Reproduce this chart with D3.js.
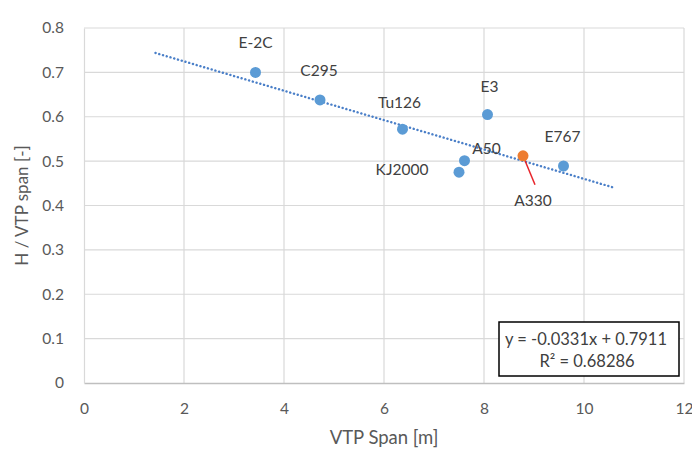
<!DOCTYPE html>
<html>
<head>
<meta charset="utf-8">
<script src="https://cdn.jsdelivr.net/npm/d3@7"></script>
<style>
  body { margin: 0; background: #fff; }
  text { font-family: Lato, "Open Sans", sans-serif; }
</style>
</head>
<body>
<div id="chart"></div>
<script>
const w = 692;
const h = 454;

// Data
const names = ['E-2C', 'C295', 'Tu126', 'E3', 'A50', 'KJ2000', 'A330', 'E767'];
const spans = [3.43, 4.72, 6.37, 8.07, 7.61, 7.50, 8.78, 9.59];
const ratios = [0.700, 0.638, 0.572, 0.605, 0.501, 0.475, 0.512, 0.489];
const highlighted = ['A330'];
const xTicks = [0, 2, 4, 6, 8, 10, 12];
const yTicks = [0, 0.1, 0.2, 0.3, 0.4, 0.5, 0.6, 0.7, 0.8];
const slope = -0.0331;
const intercept = 0.7911;
const rSquared = '0.68286';
const trendRange = [1.43, 10.59];

// label placement (centre offset from point, px)
const labelPos = {
  'E-2C': [0, -30], 'C295': [-1, -29], 'Tu126': [-3, -27], 'E3': [2, -28],
  'A50': [22, -12], 'KJ2000': [-57, -3], 'A330': [10, 45], 'E767': [-1, -29]
};

const m = {left: 84, right: 8, top: 28, bottom: 71};

const svg = d3.select('#chart').append('svg')
  .attr('width', w)
  .attr('height', h);

const x = d3.scaleLinear().domain([0, 12]).range([m.left, w - m.right]);
const y = d3.scaleLinear().domain([0, 0.8]).range([h - m.bottom, m.top]);

// gridlines
svg.append('g')
  .selectAll('line')
  .data(yTicks.slice(1))
  .enter().append('line')
  .attr('x1', x(0)).attr('x2', x(12))
  .attr('y1', d => y(d)).attr('y2', d => y(d))
  .attr('stroke', '#d9d9d9').attr('stroke-width', 1.2);
svg.append('g')
  .selectAll('line')
  .data(xTicks.slice(1))
  .enter().append('line')
  .attr('x1', d => x(d)).attr('x2', d => x(d))
  .attr('y1', y(0)).attr('y2', y(0.8))
  .attr('stroke', '#d9d9d9').attr('stroke-width', 1.2);

// axes
const xAxis = d3.axisBottom(x).tickValues(xTicks).tickSize(0).tickPadding(20);
const yAxis = d3.axisLeft(y).tickValues(yTicks).tickSize(0).tickPadding(20)
  .tickFormat(d => d === 0 ? '0' : d3.format('.1f')(d));

const gx = svg.append('g').attr('transform', `translate(0,${y(0)})`).call(xAxis);
const gy = svg.append('g').attr('transform', `translate(${x(0)},0)`).call(yAxis);
gx.select('.domain').attr('stroke', '#bfbfbf').attr('stroke-width', 1.5);
gy.select('.domain').attr('stroke', '#d9d9d9').attr('stroke-width', 1.2);
[gx, gy].forEach(g => g.selectAll('text')
  .attr('fill', '#595959').style('font-size', '15.5px')
  .style('font-family', 'Lato, "Open Sans", sans-serif'));

// axis titles
svg.append('text')
  .attr('transform', `translate(22,${(y(0) + y(0.8)) / 2}) rotate(-90)`)
  .attr('text-anchor', 'middle').attr('dy', '0.35em')
  .attr('fill', '#595959').style('font-size', '17px')
  .text('H / VTP span [-]');
svg.append('text')
  .attr('x', (x(0) + x(12)) / 2).attr('y', 438)
  .attr('text-anchor', 'middle').attr('dy', '0.35em')
  .attr('fill', '#595959').style('font-size', '18.5px')
  .text('VTP Span [m]');

// trendline
svg.append('line')
  .attr('x1', x(trendRange[0])).attr('y1', y(slope * trendRange[0] + intercept))
  .attr('x2', x(trendRange[1])).attr('y2', y(slope * trendRange[1] + intercept))
  .attr('stroke', '#4a7fc8').attr('stroke-width', 2.4)
  .attr('stroke-dasharray', '0.1 3.8').attr('stroke-linecap', 'round');

// points
const pts = names.map((n, i) => ({name: n, x: spans[i], y: ratios[i]}));

// leader line for A330
pts.filter(d => highlighted.includes(d.name)).forEach(d => {
  svg.append('line')
    .attr('x1', x(d.x)).attr('y1', y(d.y))
    .attr('x2', x(d.x) + 12).attr('y2', y(d.y) + 29)
    .attr('stroke', '#e8242a').attr('stroke-width', 1.5);
});

svg.append('g')
  .selectAll('circle')
  .data(pts)
  .enter().append('circle')
  .attr('cx', d => x(d.x))
  .attr('cy', d => y(d.y))
  .attr('r', 5.5)
  .attr('fill', d => highlighted.includes(d.name) ? '#ed7d31' : '#5b9bd5');

svg.append('g')
  .selectAll('text')
  .data(pts)
  .enter().append('text')
  .attr('x', d => x(d.x) + labelPos[d.name][0])
  .attr('y', d => y(d.y) + labelPos[d.name][1])
  .attr('text-anchor', 'middle').attr('dy', '0.35em')
  .attr('fill', '#404040').style('font-size', '15.5px')
  .text(d => d.name);

// equation box
const box = svg.append('g').attr('transform', 'translate(499,322)');
box.append('rect')
  .attr('width', 180).attr('height', 54)
  .attr('fill', '#fff').attr('stroke', '#000').attr('stroke-width', 1.5);
box.append('text')
  .attr('x', 87).attr('y', 17).attr('dy', '0.35em')
  .attr('text-anchor', 'middle').attr('fill', '#404040').style('font-size', '16.5px')
  .text(`y = ${slope}x + ${intercept}`);
box.append('text')
  .attr('x', 88).attr('y', 39).attr('dy', '0.35em')
  .attr('text-anchor', 'middle').attr('fill', '#404040').style('font-size', '16.5px')
  .text(`R² = ${rSquared}`);
</script>
</body>
</html>
